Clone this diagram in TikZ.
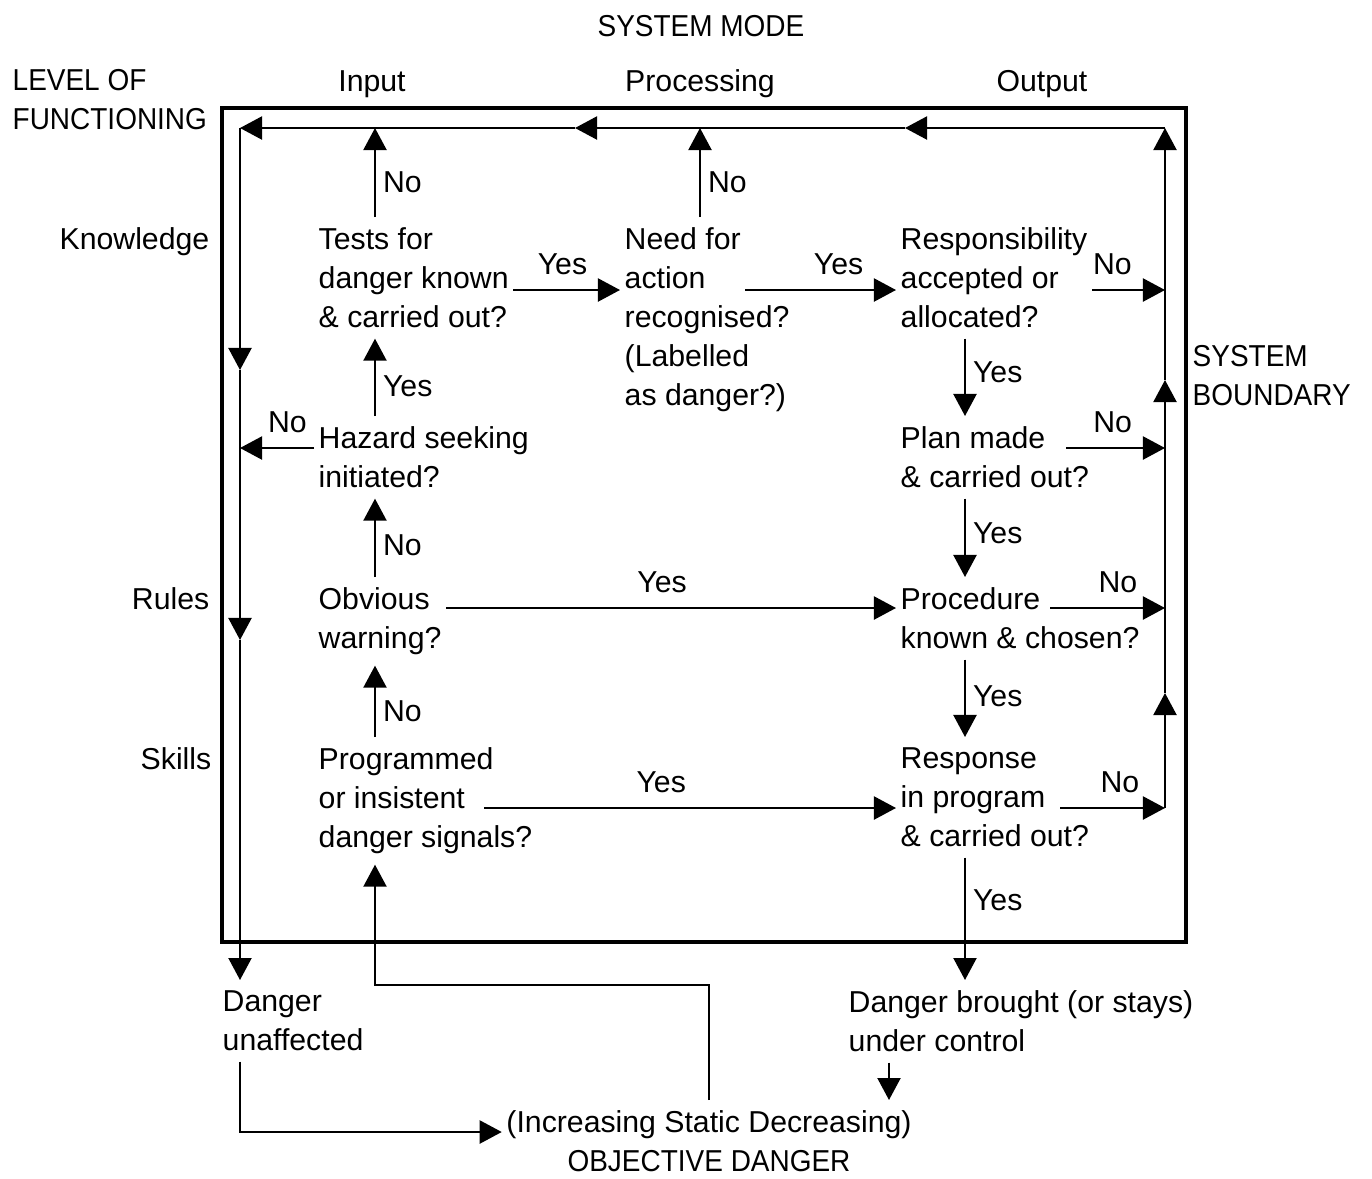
\documentclass[tikz,border=0pt]{standalone}
\usepackage{fontspec}
\setmainfont{Liberation Sans}
\newfontfamily\capsfont[FakeStretch=0.925]{Liberation Sans}
\usetikzlibrary{arrows.meta,positioning}

\tikzset{
  q/.style={align=left,anchor=north west,inner xsep=0.04cm,inner ysep=0.1cm},
  hd/.style={inner sep=0},
  capstext/.style={font=\fontsize{8.6}{11.1}\selectfont\capsfont},
  lbl/.style={inner sep=0.07cm},
  arr/.style={line width=0.6pt,-{Triangle[length=0.22cm,width=0.23cm]}},
  frame/.style={line width=1.3pt}
}

\begin{document}
\begin{tikzpicture}[x=0.01cm,y=-0.01cm,font=\fontsize{8.6}{11.1}\selectfont]
\useasboundingbox (0,0) rectangle (1372,1178);

\node[hd,capstext,anchor=base] (mode) at (701,36) {SYSTEM MODE};
\node[hd,capstext,anchor=north west,align=left] (level) at (12,69) {LEVEL OF\\FUNCTIONING};
\node[hd,anchor=base] (input) at (372,91) {Input};
\node[hd,anchor=base] (processing) at (700,91) {Processing};
\node[hd,anchor=base] (output) at (1042,91) {Output};
\node[hd,anchor=base east] (knowledge) at (210,249) {Knowledge};
\node[hd,anchor=base east] (rules) at (210,609) {Rules};
\node[hd,anchor=base east] (skills) at (212,769) {Skills};
\node[hd,capstext,anchor=north west,align=left] (boundary) at (1192,345) {SYSTEM\\BOUNDARY};

\draw[frame] (222,108) rectangle (1186,942);

\node[q] (tests) at (314,217) {Tests for\\danger known\\\& carried out?};
\node[q] (need) at (620,217) {Need for\\action\\recognised?\\(Labelled\\as danger?)};
\node[q] (resp) at (896,217) {Responsibility\\accepted or\\allocated?};
\node[q] (hazard) at (314,416) {Hazard seeking\\initiated?};
\node[q] (plan) at (896,416) {Plan made\\\& carried out?};
\node[q] (obvious) at (314,577) {Obvious\\warning?};
\node[q] (proc) at (896,577) {Procedure\\known \& chosen?};
\node[q] (prog) at (314,737) {Programmed\\or insistent\\danger signals?};
\node[q] (response) at (896,737) {Response\\in program\\\& carried out?};
\node[q] (unaff) at (218,980) {Danger\\unaffected};
\node[q] (control) at (844,980) {Danger brought (or stays)\\under control};
\node[q,align=center,anchor=north] (objective) at (709,1100) {(Increasing Static Decreasing)\\{\capsfont OBJECTIVE DANGER}};

\coordinate (tl) at (240,128);
\coordinate (tr) at (1165,128);
\coordinate (t1) at (905,128);
\coordinate (t2) at (575,128);
\coordinate (l1) at (240,370);
\coordinate (l2) at (240,640);
\coordinate (a1) at (1165,693);
\coordinate (a2) at (1165,380);
\coordinate (c1) at (375,128);
\coordinate (c2) at (700,128);
\coordinate (c3) at (965,128);
\coordinate (c4) at (889,1080);
\coordinate (r1) at (1165,290);
\coordinate (r2) at (1165,448);
\coordinate (r3) at (1165,608);
\coordinate (r4) at (1165,808);
\coordinate (r5) at (240,1132);
\coordinate (r6) at (700,985);

\draw[arr] (tr) -- (t1);
\draw[arr] (t1) -- (t2);
\draw[arr] (t2) -- (tl);
\draw[arr] (tl) -- (l1);
\draw[arr] (l1) -- (l2);
\draw[arr] (l2) -- (unaff.north -| tl);
\draw[arr] (r4) -- (a1);
\draw[arr] (a1) -- (a2);
\draw[arr] (a2) -- (tr);

\draw[arr] (tests.north -| c1) -- node[lbl,right,pos=0.39] {No} (c1);
\draw[arr] (need.north -| c2) -- node[lbl,right,pos=0.39] {No} (c2);
\draw[arr] (tests.east |- r1) -- node[lbl,above=0.07cm,pos=0.46] {Yes} (need.west |- r1);
\draw[arr] ([xshift=1.25cm]need.north west |- r1) -- node[lbl,above=0.07cm,pos=0.62] {Yes} (resp.west |- r1);
\draw[arr] (resp.east |- r1) -- node[lbl,above=0.07cm,pos=0.28] {No} (r1);
\draw[arr] (c3 |- resp.south) -- node[lbl,right,pos=0.43] {Yes} (c3 |- plan.north);
\draw[arr] (hazard.north -| c1) -- node[lbl,right,pos=0.39] {Yes} (tests.south -| c1);
\draw[arr] (hazard.west |- r2) -- node[lbl,above=0.07cm,pos=0.36] {No} (tl |- r2);
\draw[arr] ([xshift=1.7cm]plan.north west |- r2) -- node[lbl,above=0.07cm,pos=0.47] {No} (r2);
\draw[arr] (c3 |- plan.south) -- node[lbl,right,pos=0.44] {Yes} (c3 |- proc.north);
\draw[arr] (obvious.north -| c1) -- node[lbl,right,pos=0.4] {No} (hazard.south -| c1);
\draw[arr] (obvious.east |- r3) -- node[lbl,above=0.07cm,pos=0.48] {Yes} (proc.west |- r3);
\draw[arr] ([xshift=1.54cm]proc.north west |- r3) -- node[lbl,above=0.07cm,pos=0.59] {No} (r3);
\draw[arr] (c3 |- proc.south) -- node[lbl,right,pos=0.47] {Yes} (c3 |- response.north);
\draw[arr] (prog.north -| c1) -- node[lbl,right,pos=0.36] {No} (obvious.south -| c1);
\draw[arr] ([xshift=1.7cm]prog.north west |- r4) -- node[lbl,above=0.07cm,pos=0.43] {Yes} (response.west |- r4);
\draw[arr] ([xshift=1.64cm]response.north west |- r4) -- node[lbl,above=0.07cm,pos=0.57] {No} (r4);
\draw[arr] (c3 |- response.south) -- node[lbl,right,pos=0.35] {Yes} (c3 |- control.north);
\draw[arr] (control.south -| c4) -- (objective.north -| c4);
\draw[arr] (unaff.south -| tl) |- (objective.west |- r5);
\draw[arr] (objective.north) -- (objective.north |- r6) -| (prog.south -| c1);

\end{tikzpicture}
\end{document}
